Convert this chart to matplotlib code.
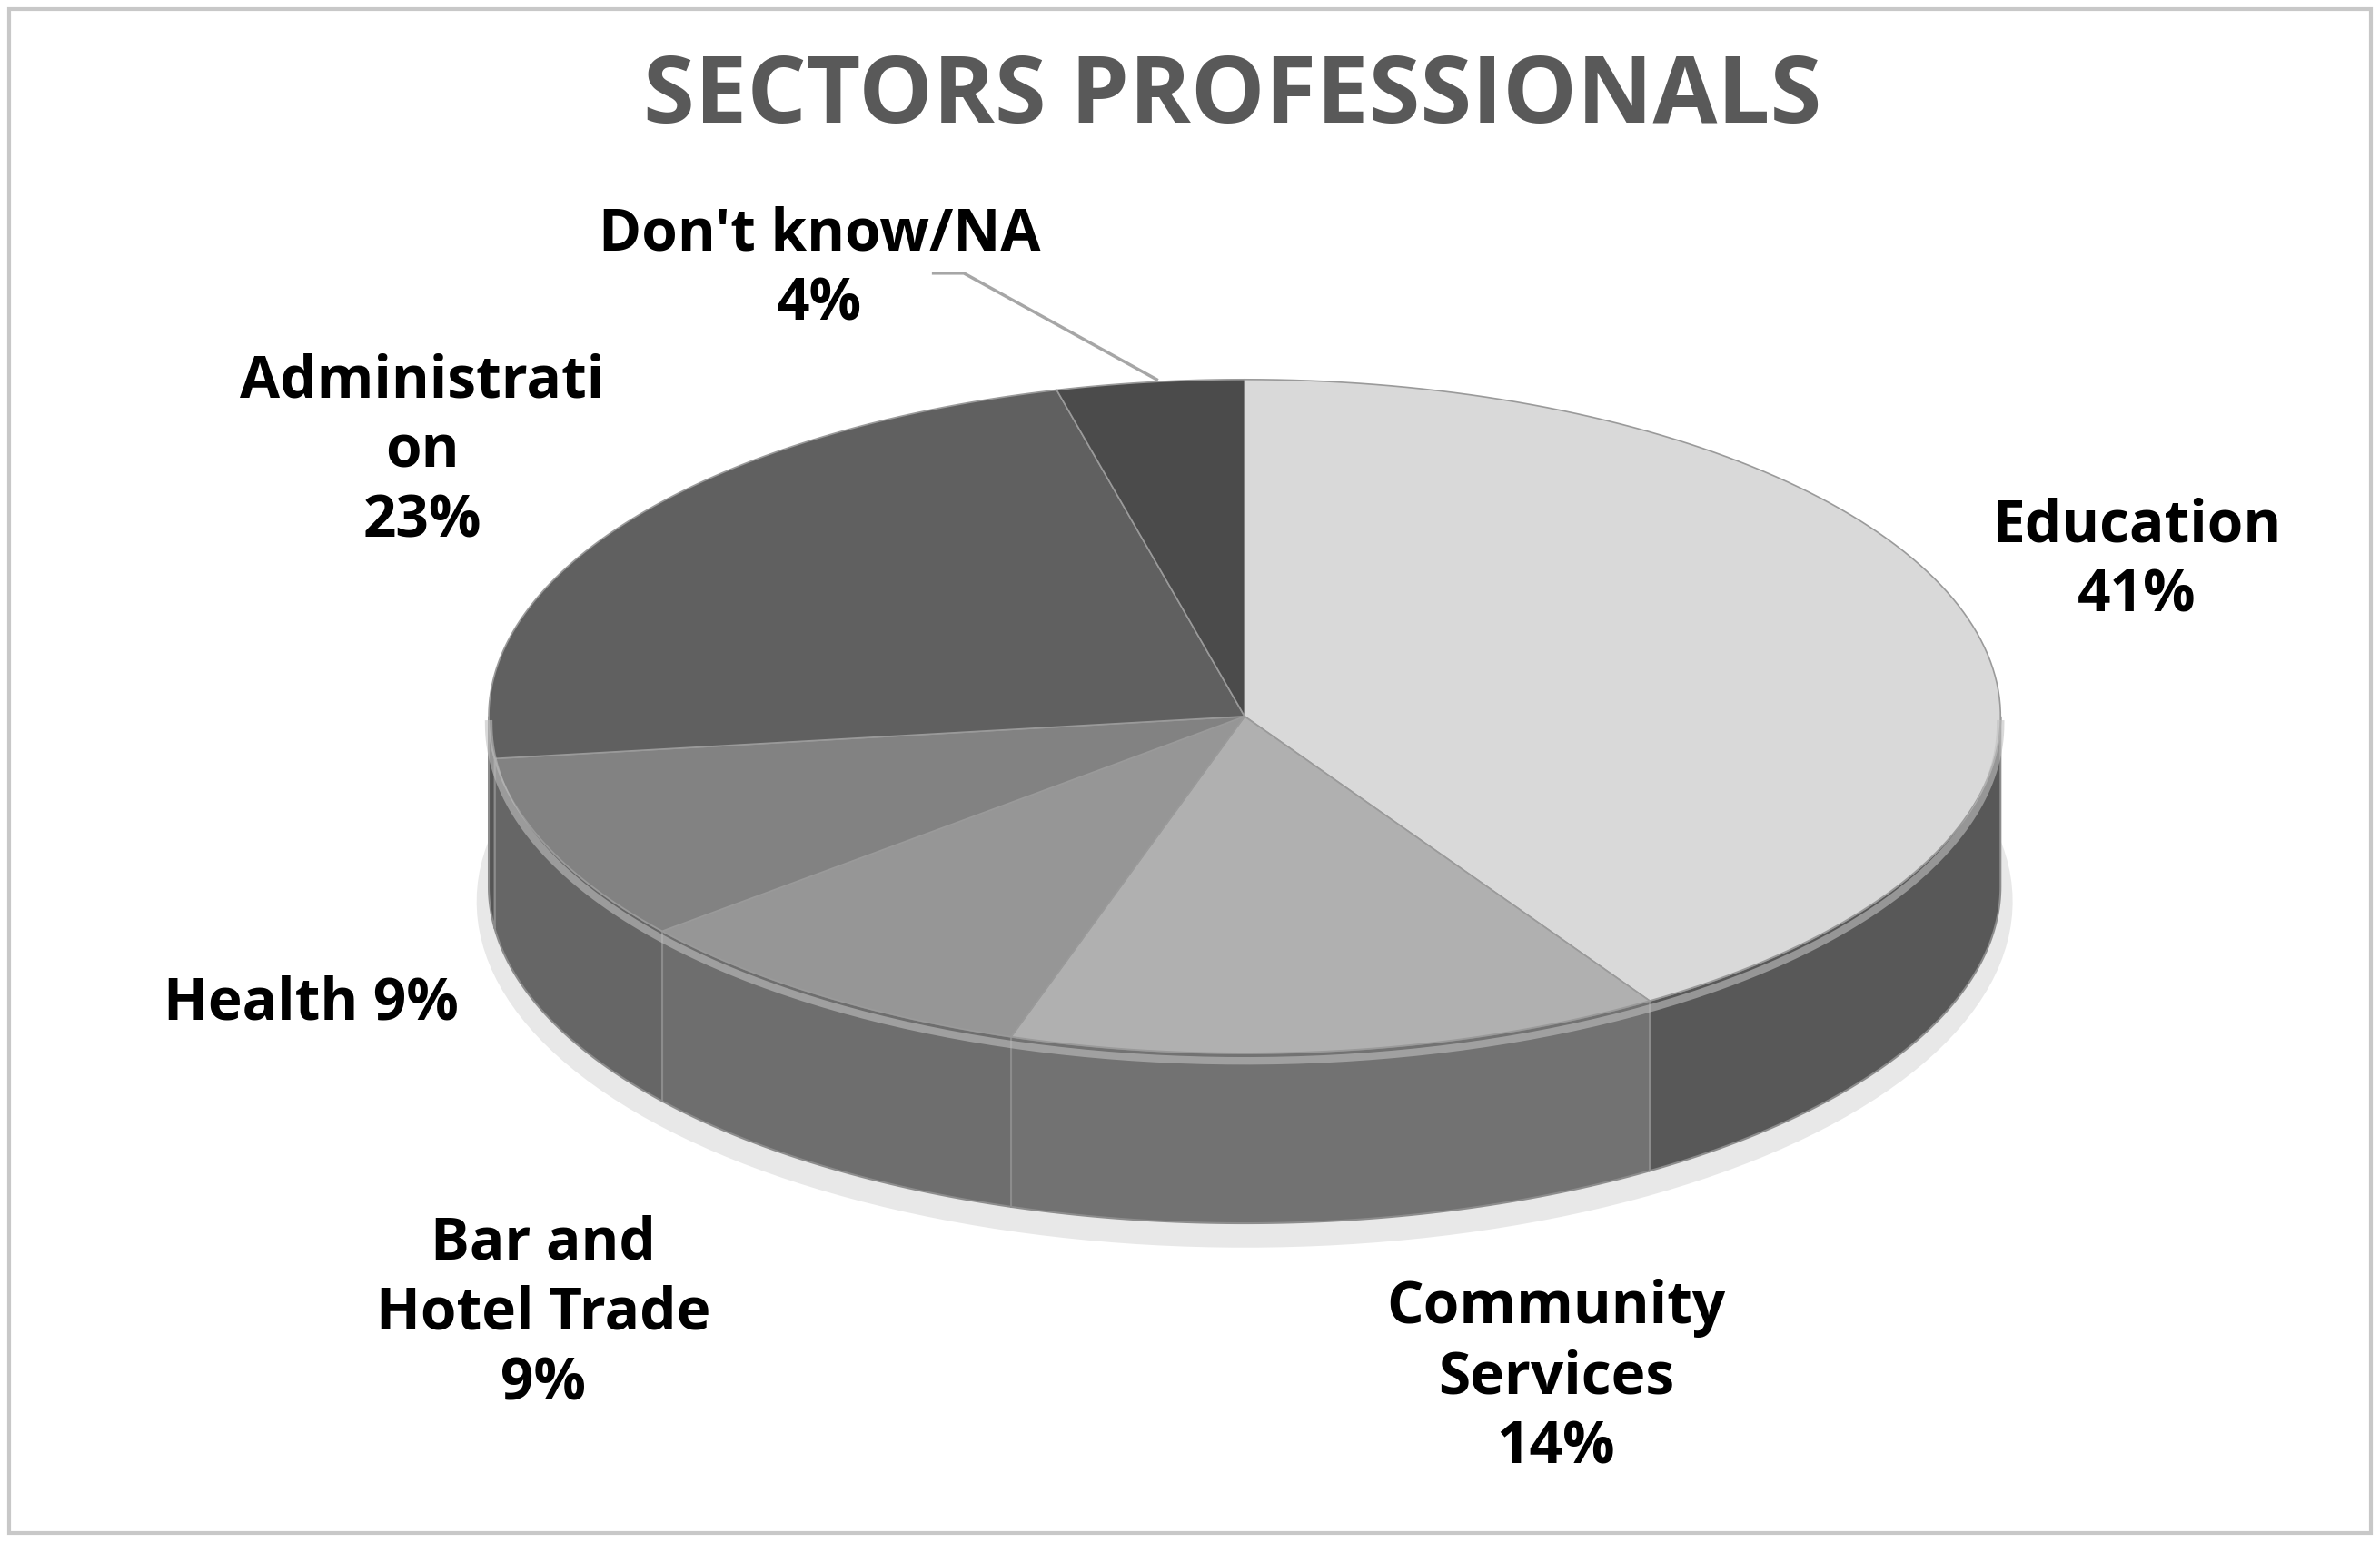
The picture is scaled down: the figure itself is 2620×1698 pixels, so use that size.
import numpy as np
import matplotlib.pyplot as plt
from matplotlib.patches import Polygon, Rectangle

labels = ["Education\n41%", "Community\nServices\n14%", "Bar and\nHotel Trade\n9%",
          "Health 9%", "Administrati\non\n23%", "Don't know/NA\n4%"]
values = [41, 14, 9, 9, 23, 4]
top_colors = ["#d9d9d9", "#b0b0b0", "#969696", "#828282", "#606060", "#4b4b4b"]
side_colors = ["#585858", "#727272", "#6e6e6e", "#666666", "#555555", "#444444"]
label_pos = [(1408, 370), (1025, 908), (358, 866), (205, 662), (278, 298), (540, 178)]

plt.rcParams['font.family'] = ['Open Sans', 'DejaVu Sans']
fig = plt.figure(figsize=(26.2, 16.98), dpi=100)
ax = fig.add_axes([0, 0, 1, 1])
W, H = 1568, 1016
ax.set_xlim(0, W)
ax.set_ylim(H, 0)
ax.axis("off")
ax.add_patch(Rectangle((6, 6), W - 12, H - 12, fill=False, ec="#c8c8c8", lw=3))

cx, cy, rx, ry, depth = 820, 472, 498, 222, 112


def pt(t, dy=0):
    return cx + rx * np.sin(t), cy - ry * np.cos(t) + dy


# soft shadow
sh = np.linspace(0, 2 * np.pi, 200)
ax.add_patch(Polygon(np.column_stack([cx + (rx + 8) * np.sin(sh), cy + depth + 10 - (ry + 6) * np.cos(sh)]),
                     closed=True, fc="#e8e8e8", ec="none", zorder=0))

bounds = np.concatenate([[0], np.cumsum(values)]) / sum(values) * 2 * np.pi
for i in range(len(values)):
    a0, a1 = bounds[i], bounds[i + 1]
    s0, s1 = max(a0, np.pi / 2), min(a1, 3 * np.pi / 2)
    if s1 > s0:
        t = np.linspace(s0, s1, 80)
        x, y = pt(t)
        xb, yb = pt(t[::-1], depth)
        ax.add_patch(Polygon(np.column_stack([np.r_[x, xb], np.r_[y, yb]]), closed=True,
                             fc=side_colors[i], ec="#8c8c8c", lw=1.5, zorder=1))
for i in range(len(values)):
    a0, a1 = bounds[i], bounds[i + 1]
    t = np.linspace(a0, a1, 120)
    x, y = pt(t)
    ax.add_patch(Polygon(np.column_stack([np.r_[cx, x], np.r_[cy, y]]), closed=True,
                         fc=top_colors[i], ec="#9a9a9a", lw=1.2, zorder=2))
# rim highlight
t = np.linspace(np.pi / 2, 3 * np.pi / 2, 200)
x, y = pt(t)
ax.plot(x, y + 5, color="#c0c0c0", lw=6, zorder=3, alpha=0.6)

for lab, (lx, ly) in zip(labels, label_pos):
    ax.text(lx, ly, lab, ha="center", va="center", fontsize=46, fontweight="bold",
            color="black", linespacing=1.25, zorder=5)

ax.plot([615, 635, 762], [180, 180, 250], color="#a6a6a6", lw=2.5, zorder=4)
ax.text(812, 65, "SECTORS PROFESSIONALS", ha="center", va="center",
        fontsize=74, fontweight="bold", color="#595959")

fig.savefig("out.png", dpi=100)
